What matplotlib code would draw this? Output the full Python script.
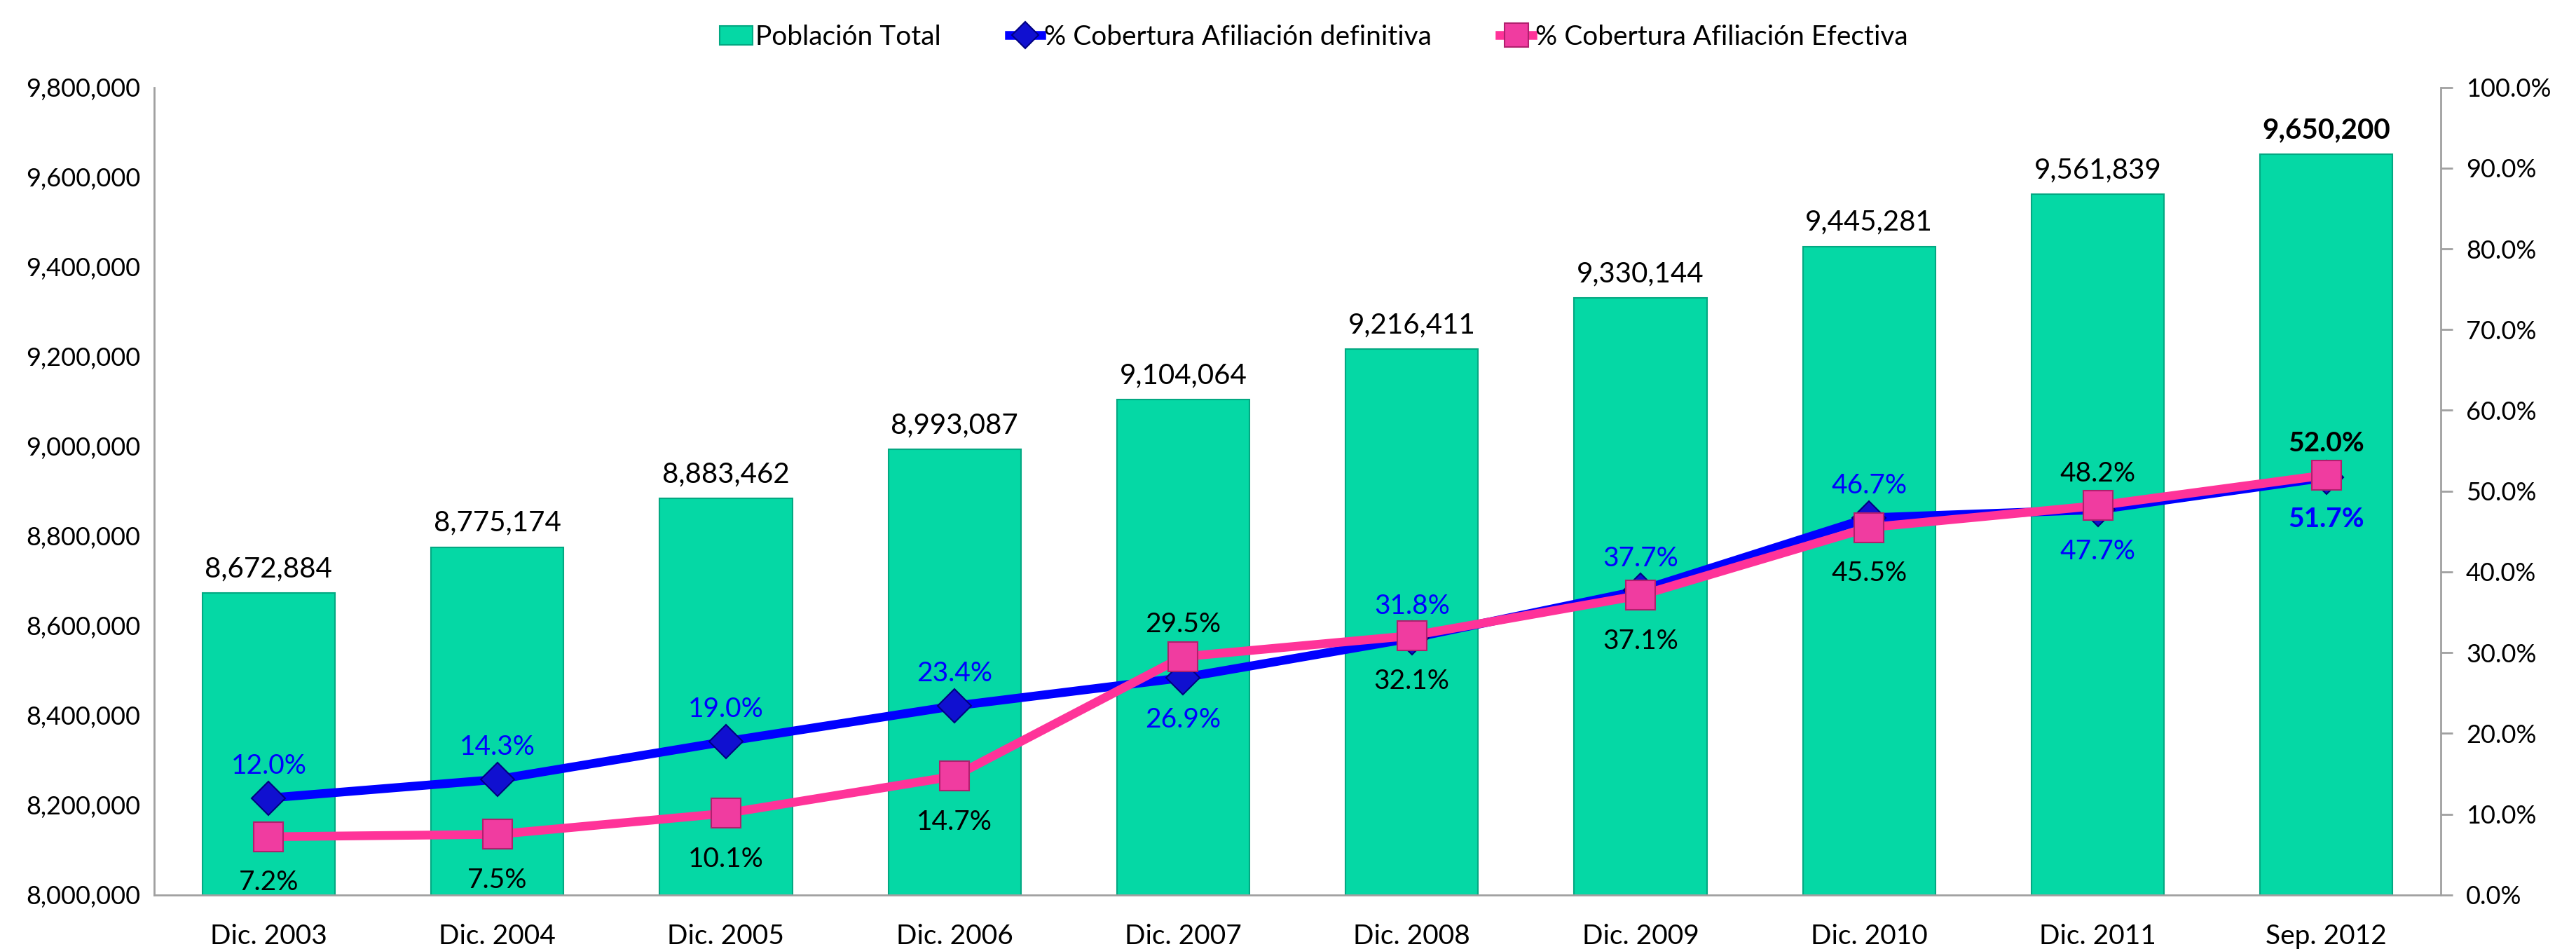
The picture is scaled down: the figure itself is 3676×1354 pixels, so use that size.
import matplotlib.pyplot as plt
from matplotlib.ticker import FuncFormatter
import numpy as np

plt.rcParams['font.family'] = ['Lato', 'DejaVu Sans']

# data
periodos = ['Dic. 2003', 'Dic. 2004', 'Dic. 2005', 'Dic. 2006', 'Dic. 2007',
            'Dic. 2008', 'Dic. 2009', 'Dic. 2010', 'Dic. 2011', 'Sep. 2012']
poblacion = [8672884, 8775174, 8883462, 8993087, 9104064,
             9216411, 9330144, 9445281, 9561839, 9650200]
cob_definitiva = [12.0, 14.3, 19.0, 23.4, 26.9, 31.8, 37.7, 46.7, 47.7, 51.7]
cob_efectiva = [7.2, 7.5, 10.1, 14.7, 29.5, 32.1, 37.1, 45.5, 48.2, 52.0]

# label placement: 1 = above, -1 = below
pos_def = [1, 1, 1, 1, -1, 1, 1, 1, -1, -1]
pos_efe = [-1, -1, -1, -1, 1, -1, -1, -1, 1, 1]

teal = '#05D8A5'
blue = '#0000FF'
pink = '#FF3399'

fig = plt.figure(figsize=(36.76, 13.54), dpi=100)
ax = fig.add_axes([0.0599, 0.057, 0.8876, 0.851])
x = np.arange(len(periodos))

bars = ax.bar(x, poblacion, width=0.58, color=teal, edgecolor='#03A882',
              linewidth=1.5, zorder=2, label='Población Total')
ax.set_ylim(8000000, 9800000)
ax.set_xlim(-0.5, len(periodos) - 0.5)
ax.set_yticks(np.arange(8000000, 9800001, 200000))
ax.yaxis.set_major_formatter(FuncFormatter(lambda v, p: f'{v:,.0f}'))
ax.set_xticks(x)
ax.set_xticklabels(periodos, fontsize=28)
ax.tick_params(axis='y', labelsize=26, length=0, pad=14)
ax.tick_params(axis='x', length=0, pad=30)
for s in ['top', 'right']:
    ax.spines[s].set_visible(False)
for s in ['left', 'bottom']:
    ax.spines[s].set_color('#A0A0A0')
    ax.spines[s].set_linewidth(2)

for i, v in enumerate(poblacion):
    last = i == len(poblacion) - 1
    ax.text(x[i], v + 25000, f'{v:,.0f}', ha='center', va='bottom',
            fontsize=29, fontweight='bold' if last else 'normal')

ax2 = ax.twinx()
ax2.set_ylim(0, 100)
ax2.set_yticks(np.arange(0, 101, 10))
ax2.yaxis.set_major_formatter(FuncFormatter(lambda v, p: f'{v:.1f}%'))
ax2.tick_params(axis='y', labelsize=26, length=12, width=2, color='#A0A0A0', pad=14)
for s in ['top', 'left', 'bottom']:
    ax2.spines[s].set_visible(False)
ax2.spines['right'].set_color('#A0A0A0')
ax2.spines['right'].set_linewidth(2)

l1, = ax2.plot(x, cob_definitiva, color=blue, lw=9, marker='D', markersize=24,
               markerfacecolor='#1010D0', markeredgecolor='#000080', markeredgewidth=1.5,
               zorder=3, label='% Cobertura Afiliación definitiva')
l2, = ax2.plot(x, cob_efectiva, color=pink, lw=9, marker='s', markersize=30,
               markerfacecolor='#F03CA0', markeredgecolor='#B0206E', markeredgewidth=1.5,
               zorder=4, label='% Cobertura Afiliación Efectiva')

for i in range(len(periodos)):
    last = i == len(periodos) - 1
    fw = 'bold' if last else 'normal'
    d = pos_def[i]
    ax2.annotate(f'{cob_definitiva[i]:.1f}%', (x[i], cob_definitiva[i]),
                 xytext=(0, 20 if d > 0 else -30), textcoords='offset points', ha='center',
                 va='bottom' if d > 0 else 'top', fontsize=28, color=blue, fontweight=fw)
    e = pos_efe[i]
    ax2.annotate(f'{cob_efectiva[i]:.1f}%', (x[i], cob_efectiva[i]),
                 xytext=(0, 20 if e > 0 else -34), textcoords='offset points', ha='center',
                 va='bottom' if e > 0 else 'top', fontsize=28, color='black', fontweight=fw)

fig.legend([bars, l1, l2], [bars.get_label(), l1.get_label(), l2.get_label()],
           loc='upper center', bbox_to_anchor=(0.51, 1.0), ncol=3, frameon=False,
           fontsize=28, handlelength=1.2, columnspacing=2.5, handletextpad=0.1,
           markerscale=0.8)

fig.savefig('out.png', dpi=100)
